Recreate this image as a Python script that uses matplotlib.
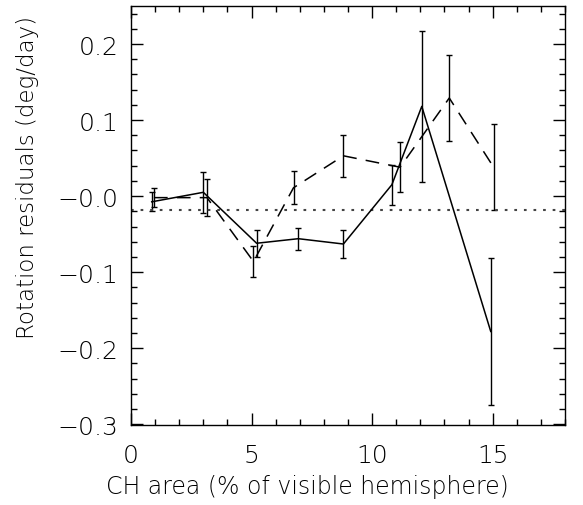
import matplotlib
matplotlib.use("Agg")
import matplotlib.pyplot as plt
from matplotlib.ticker import MultipleLocator, FixedLocator, FixedFormatter

# Solid series
solid_x = [0.86, 3.0, 5.21, 6.94, 8.81, 10.82, 12.06, 14.92]
solid_y = [-0.0075, 0.005, -0.062, -0.056, -0.063, 0.015, 0.118, -0.178]
solid_err = [0.0125, 0.027, 0.018, 0.0143, 0.018, 0.0265, 0.099, 0.0965]

# Dashed series
dash_x = [0.95, 3.15, 5.08, 6.74, 8.81, 11.16, 13.2, 15.04]
dash_y = [-0.002, -0.002, -0.086, 0.011, 0.053, 0.038, 0.129, 0.038]
dash_err = [0.0125, 0.024, 0.021, 0.022, 0.028, 0.033, 0.056, 0.0565]

ref_level = -0.0185

xticks = [0, 5, 10, 15]
xticklabels = ["0", "5", "10", "15"]
yticks = [-0.3, -0.2, -0.1, 0.0, 0.1, 0.2]
yticklabels = ["\u22120.3", "\u22120.2", "\u22120.1", "\u22120.0", "0.1", "0.2"]

plt.rcParams["font.family"] = ["DejaVu Sans"]
plt.rcParams["font.weight"] = "light"
plt.rcParams["axes.labelweight"] = "light"

fig = plt.figure(figsize=(5.83, 5.06), dpi=100)
ax = fig.add_axes([131/583, 80/506, 434/583, 419/506])

ax.errorbar(solid_x, solid_y, yerr=solid_err, color="black", lw=1.1,
            elinewidth=1.0, capsize=2, capthick=1.0)
ax.errorbar(dash_x, dash_y, yerr=dash_err, color="black", lw=1.1,
            linestyle=(0, (9, 6)), elinewidth=1.0, capsize=2, capthick=1.0)
ax.axhline(ref_level, color="#444444", lw=1.5, linestyle=(0, (1.3, 3.3)))

ax.set_xlim(0, 18)
ax.set_ylim(-0.301, 0.25)

ax.xaxis.set_major_locator(FixedLocator(xticks))
ax.xaxis.set_major_formatter(FixedFormatter(xticklabels))
ax.xaxis.set_minor_locator(MultipleLocator(1))
ax.yaxis.set_major_locator(FixedLocator(yticks))
ax.yaxis.set_major_formatter(FixedFormatter(yticklabels))
ax.yaxis.set_minor_locator(MultipleLocator(0.02))

ax.tick_params(which="both", direction="in", top=True, right=True, width=1,
               labelsize=18, colors="black")
ax.tick_params(which="major", length=8.5)
ax.tick_params(which="minor", length=4.5)
ax.tick_params(axis="x", which="major", pad=13)
ax.tick_params(axis="y", which="major", pad=9)

for s in ax.spines.values():
    s.set_linewidth(1.0)

ax.set_xlabel("CH area (% of visible hemisphere)", fontsize=17)
ax.set_ylabel("Rotation residuals (deg/day)", fontsize=16.5)
ax.xaxis.set_label_coords(0.407, -0.117)
ax.yaxis.set_label_coords(-0.212, 0.592)

fig.savefig("out.png", dpi=100)
